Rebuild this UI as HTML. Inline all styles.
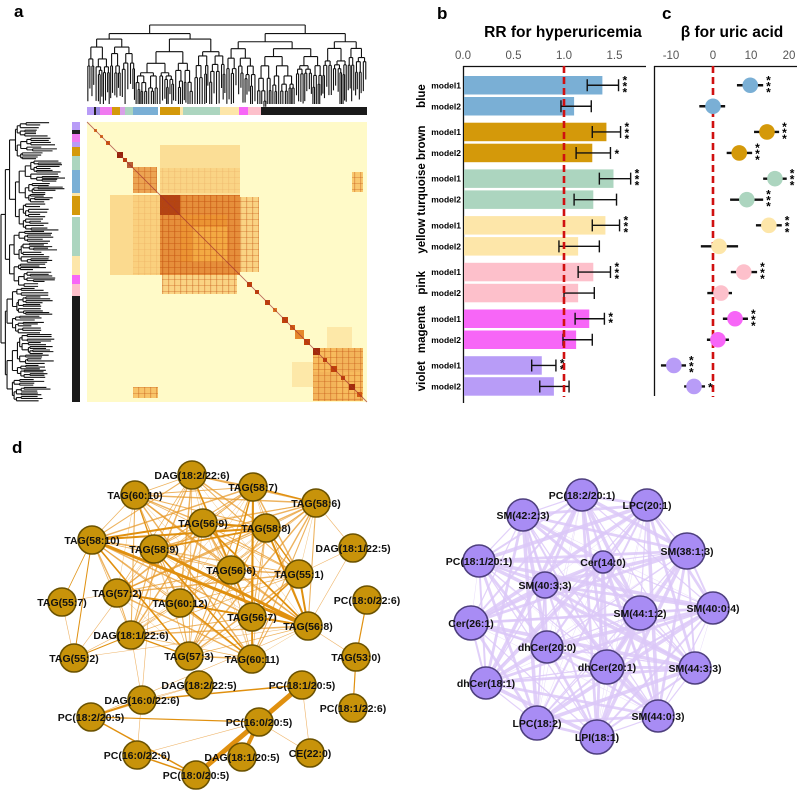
<!DOCTYPE html>
<html><head><meta charset="utf-8">
<style>
html,body{margin:0;padding:0;background:#fff;}
svg{display:block;font-family:"Liberation Sans",sans-serif;}
.lbl{font-weight:bold;font-size:10.5px;fill:#111;}
</style></head>
<body>
<svg id="fig" width="797" height="791" viewBox="0 0 797 791" xmlns="http://www.w3.org/2000/svg">
  <defs>
    <pattern id="stripes" width="6" height="6" patternUnits="userSpaceOnUse">
      <rect x="0" y="0" width="1.2" height="6" fill="#c05010" opacity="0.35"/>
      <rect x="0" y="3" width="6" height="1" fill="#c05010" opacity="0.3"/>
    </pattern>
  </defs>
  <text x="14" y="17" font-size="17" font-weight="bold">a</text>
  <text x="437" y="19" font-size="17" font-weight="bold">b</text>
  <text x="662" y="19" font-size="17" font-weight="bold">c</text>
  <text x="12" y="453" font-size="17" font-weight="bold">d</text>
  <g id="pa"></g>
  <g id="pb"></g>
  <g id="pc"></g>
  <g id="pd"></g>
</svg>
<script>
const NS="http://www.w3.org/2000/svg";
function mk(parent,tag,attrs,text){const e=document.createElementNS(NS,tag);for(const k in attrs)e.setAttribute(k,attrs[k]);if(text!==undefined)e.textContent=text;parent.appendChild(e);return e;}

// ===== data panel b/c =====
const groups=["blue","brown","turquoise","yellow","pink","magenta","violet"];
const groupColors=["#7aafd5","#d4990a","#acd5bf","#fde6a9","#fdc0cb","#f766f7","#b89cf7"];
const models=["model1","model2"];
const rrValues=[1.38,1.10,1.42,1.28,1.49,1.29,1.41,1.14,1.29,1.14,1.25,1.12,0.78,0.90];
const rrLow=[1.23,0.97,1.28,1.12,1.35,1.10,1.28,0.95,1.14,1.00,1.11,0.99,0.68,0.76];
const rrHigh=[1.54,1.27,1.56,1.46,1.66,1.52,1.55,1.35,1.46,1.30,1.40,1.28,0.92,1.05];
const rrStars=[3,0,3,1,3,0,3,0,3,0,2,0,2,0];
const rrTicks=[0,0.5,1.0,1.5];
const rrTickLabels=["0.0","0.5","1.0","1.5"];
const betaValues=[9.8,0,14.2,6.9,16.3,8.9,14.7,1.6,8.1,2.1,5.8,1.3,-10.3,-5.0];
const betaLow=[6.3,-3.6,10.8,3.6,13.2,4.5,11.3,-3.2,4.7,-1.5,2.6,-1.6,-13.7,-7.6];
const betaHigh=[13.2,3.2,17.4,10.3,19.4,13.2,18.1,6.6,11.6,5.0,9.2,4.2,-7.1,-2.1];
const betaStars=[3,0,3,3,3,3,3,0,3,0,3,0,3,1];
const betaTicks=[-10,0,10,20];
const betaTickLabels=["-10","0","10","20"];

const xRR=v=>463+v*101;
const xB=v=>713+v*3.8;
const rowTop=i=>76+Math.floor(i/2)*46.7+(i%2)*21;

function stars(g,x,yc,n){
  for(let k=0;k<n;k++){
    const t=mk(g,"text",{x:x,y:yc+5+(k-(n-1)/2)*6,"font-size":"12","font-weight":"bold"},"*");
    
    
  }
}

// panel b
(function(){
  const g=document.getElementById("pb");
  let t=mk(g,"text",{x:563,y:37,"font-size":"15.5","font-weight":"bold","text-anchor":"middle"},"RR for hyperuricemia");
  
  const ax=mk(g,"line",{x1:463,y1:66.5,x2:646,y2:66.5,stroke:"#111","stroke-width":1.3});
  
  const ay=mk(g,"line",{x1:463.5,y1:66,x2:463.5,y2:403,stroke:"#111","stroke-width":1.3});
  
  rrTicks.forEach((v,i)=>{const e=mk(g,"text",{x:xRR(v),y:59,"font-size":"11.5",fill:"#555","text-anchor":"middle"},rrTickLabels[i]);
    });
  rrValues.forEach((v,i)=>{
    const y=rowTop(i),gi=Math.floor(i/2);
    const r=mk(g,"rect",{x:464,y:y,width:xRR(v)-464,height:18.5,fill:groupColors[gi]});
    
    const yc=y+9.25;
    const l=mk(g,"path",{d:`M${xRR(rrLow[i])},${yc}H${xRR(rrHigh[i])}M${xRR(rrLow[i])},${yc-6}v12M${xRR(rrHigh[i])},${yc-6}v12`,stroke:"#111","stroke-width":1.4,fill:"none"});
    
    const m=mk(g,"text",{x:461,y:yc+3,"font-size":"8.5","font-weight":"bold","text-anchor":"end"},models[i%2]);
    
    stars(g,xRR(rrHigh[i])+4,yc,rrStars[i]);
  });
  groups.forEach((n,gi)=>{
    const yc=rowTop(gi*2)+20;
    const e=mk(g,"text",{x:0,y:0,"font-size":"11.5","font-weight":"bold","text-anchor":"middle",transform:`translate(425,${yc}) rotate(-90)`},n);
    
  });
  const d=mk(g,"line",{x1:xRR(1),y1:66,x2:xRR(1),y2:397,stroke:"#d01010","stroke-width":2.6,"stroke-dasharray":"7,4"});
  
})();

// panel c
(function(){
  const g=document.getElementById("pc");
  let t=mk(g,"text",{x:732,y:37,"font-size":"15.5","font-weight":"bold","text-anchor":"middle"},"β for uric acid");
  
  const ax=mk(g,"line",{x1:654,y1:66.5,x2:797,y2:66.5,stroke:"#111","stroke-width":1.3});
  
  const ay=mk(g,"line",{x1:654.5,y1:66,x2:654.5,y2:396,stroke:"#111","stroke-width":1.3});
  
  betaTicks.forEach((v,i)=>{const e=mk(g,"text",{x:xB(v)-(v<0?4:0),y:59,"font-size":"11.5",fill:"#555","text-anchor":"middle"},betaTickLabels[i]);
    });
  const d=mk(g,"line",{x1:xB(0),y1:66,x2:xB(0),y2:397,stroke:"#d01010","stroke-width":2.6,"stroke-dasharray":"7,4"});
  
  betaValues.forEach((v,i)=>{
    const yc=rowTop(i)+9.25,gi=Math.floor(i/2);
    const l=mk(g,"line",{x1:xB(betaLow[i]),y1:yc,x2:xB(betaHigh[i]),y2:yc,stroke:"#111","stroke-width":2.4});
    
    const c=mk(g,"circle",{cx:xB(v),cy:yc,r:7.8,fill:groupColors[gi]});
    
    stars(g,xB(betaHigh[i])+3,yc,betaStars[i]);
  });
})();

// ===== panel a =====
const barSegsTop=[[0,7,"#b89cf7"],[7,9,"#222"],[9,13,"#9a8ae0"],[13,25,"#f07af0"],[25,33,"#d4990a"],[33,38,"#d9a0e8"],[38,46,"#acd5bf"],[46,71,"#7aafd5"],[71,73,"#fff"],[73,93,"#d4990a"],[93,96,"#fde6a9"],[96,133,"#acd5bf"],[133,152,"#fde6a9"],[152,161,"#f766f7"],[161,174,"#fdc0cb"],[174,280,"#1a1a1a"]];
const barSegsLeft=[[0,8,"#b89cf7"],[8,12,"#222"],[12,20,"#f07af0"],[20,25,"#b89cf7"],[25,34,"#d4990a"],[34,48,"#acd5bf"],[48,71,"#7aafd5"],[71,74,"#fde6a9"],[74,93,"#d4990a"],[93,95,"#fff"],[95,134,"#acd5bf"],[134,153,"#fde6a9"],[153,162,"#f766f7"],[162,174,"#fdc0cb"],[174,280,"#1a1a1a"]];
// heatmap blocks: [x0,x1,y0,y1,intensity] in matrix index units (0-280)
const hmBlocks=[[46,153,73,153,0.22],[73,153,46,71,0.22],[23,73,73,153,0.18],[73,153,23,73,0.16],[153,172,75,150,0.22],[75,150,153,172,0.22],
 [73,153,73,153,0.5],[93,140,93,140,0.4],[73,93,73,93,0.85],[105,140,105,140,0.3],[46,70,45,71,0.45],[40,46,40,46,0.85],
 [226,276,226,279,0.38],[226,250,226,250,0.25],[250,276,250,276,0.25],[46,71,265,276,0.3],[265,276,50,70,0.28],[205,226,240,265,0.1],[240,265,205,226,0.1]];
const hmDiag=[[7,10,0.5],[13,16,0.5],[19,23,0.6],[30,36,0.9],[36,40,0.7],[160,165,0.7],[168,172,0.7],[178,183,0.7],[186,190,0.5],[195,201,0.7],[203,208,0.6],[208,217,0.45],[217,223,0.7],[226,233,0.85],[236,240,0.7],[244,250,0.7],[254,258,0.7],[262,268,0.85],[270,275,0.6]];
function heatColor(v){
  const s=[[255,250,200],[245,170,60],[200,70,10],[130,20,10]];
  const p=Math.min(0.999,Math.max(0,v))*(s.length-1),k=Math.floor(p),f=p-k;
  const c=s[k].map((a,j)=>Math.round(a+(s[k+1][j]-a)*f));return `rgb(${c})`;
}
(function(){
  const g=document.getElementById("pa");
  const X0=87,Y0=122,S=1;
  const hx=i=>X0+i*S, hy=i=>Y0+i*S;
  const bg=mk(g,"rect",{x:X0,y:Y0,width:280,height:280,fill:"#fffac8"});
  
  hmBlocks.forEach(b=>{const r=mk(g,"rect",{x:hx(b[0]),y:hy(b[2]),width:(b[1]-b[0])*S,height:(b[3]-b[2])*S,fill:heatColor(b[4]),opacity:0.75});
    
    if(b[4]>0.2){const p=mk(g,"rect",{x:hx(b[0]),y:hy(b[2]),width:(b[1]-b[0])*S,height:(b[3]-b[2])*S,fill:"url(#stripes)"});
      }
  });
  hmDiag.forEach(b=>{const r=mk(g,"rect",{x:hx(b[0]),y:hy(b[0]),width:(b[1]-b[0])*S,height:(b[1]-b[0])*S,fill:heatColor(b[2])});
    });
  const dl=mk(g,"line",{x1:X0,y1:Y0,x2:X0+280,y2:Y0+280,stroke:"#a03030","stroke-width":0.9,opacity:0.7});
  
  barSegsTop.forEach(s=>{const r=mk(g,"rect",{x:hx(s[0]),y:107,width:(s[1]-s[0])*S,height:8,fill:s[2]});
    });
  barSegsLeft.forEach(s=>{const r=mk(g,"rect",{x:72,y:hy(s[0]),width:8,height:(s[1]-s[0])*S,fill:s[2]});
    });
  // dendrograms (decorative, deterministic)
  let dTop="",dLeft="";let seed=7;
  const h=()=>{seed=(seed*9301+49297)%233280;return seed/233280;};
  function tree(a,b,y,depth,top){
    const mid=(a+b)/2;
    if(b-a<3||depth>9){const drop=y+(top?10+h()*22:8+h()*14);
      if(top)dTop+=`M${mid},${y}V${Math.min(drop,104)}`;else dLeft+=`M${y},${mid}H${Math.min(drop,65)}`;return mid;}
    const sp=a+(b-a)*(0.3+h()*0.4);
    const ny=y+(top?3+h()*10:1.5+h()*5);
    const m1=tree(a,sp,ny,depth+1,top),m2=tree(sp,b,ny,depth+1,top);
    if(top)dTop+=`M${m1},${y}H${m2}M${m1},${y}V${ny}M${m2},${y}V${ny}`;
    else dLeft+=`M${y},${m1}V${m2}M${y},${m1}H${ny}M${y},${m2}H${ny}`;
    return (m1+m2)/2;
  }
  tree(87,367,25,0,true);seed=13;tree(122,402,1,0,false);
  const p1=mk(g,"path",{d:dTop,stroke:"#111","stroke-width":1.1,fill:"none"});
  
  const p2=mk(g,"path",{d:dLeft,stroke:"#111","stroke-width":1.1,fill:"none"});
  
})();

// ===== panel d networks =====
const brownNames=["DAG(18:2/22:6)","TAG(58:7)","TAG(58:6)","TAG(60:10)","TAG(56:9)","TAG(58:8)","TAG(58:10)","TAG(58:9)","DAG(18:1/22:5)","TAG(56:6)","TAG(55:1)","TAG(57:2)","TAG(55:7)","TAG(60:12)","PC(18:0/22:6)","TAG(56:7)","TAG(56:8)","DAG(18:1/22:6)","TAG(55:2)","TAG(57:3)","TAG(60:11)","TAG(53:0)","DAG(18:2/22:5)","PC(18:1/20:5)","DAG(16:0/22:6)","PC(18:1/22:6)","PC(18:2/20:5)","PC(16:0/20:5)","PC(16:0/22:6)","DAG(18:1/20:5)","CE(22:0)","PC(18:0/20:5)"];
const brownX=[192,253,316,135,203,266,92,154,353,231,299,117,62,180,367,252,308,131,74,189,252,356,199,302,142,353,91,259,137,242,310,196];
const brownY=[475,487,503,495,523,528,540,549,548,570,574,593,602,603,600,617,626,635,658,656,659,657,685,685,700,708,717,722,755,757,753,775];
const brownHeavy=[[6,16,3],[7,16,3],[6,5,2],[4,5,2.2],[1,15,2],[1,20,1.8],[5,16,2],[10,16,2],[11,16,1.8],[7,20,1.5],[6,19,1.5],[13,20,1.5],[3,7,1.2],[0,15,1.5],[4,16,1.8],[6,4,2],[7,5,1.8],[1,9,1.5],[10,15,1.5],[23,31,5],[23,27,4],[27,29,4],[26,24,2],[26,31,1.5],[28,31,1.5],[24,23,1.5],[14,21,1.2],[21,25,1.2],[26,27,1.2],[18,6,1],[18,17,1],[12,6,0.8],[11,13,1.5],[17,19,1.2],[2,1,1.2],[5,10,1.2]];
const brownCluster=[0,1,2,3,4,5,6,7,9,10,11,13,15,16,17,19,20];
const brownThin=[[8,10],[8,2],[8,16],[12,18],[12,11],[18,16],[18,7],[22,24],[22,26],[17,24],[27,30],[23,30],[28,7],[28,27],[21,16],[18,13],[26,16]];
const violetNames=["PC(18:2/20:1)","LPC(20:1)","SM(42:2;3)","SM(38:1;3)","PC(18:1/20:1)","Cer(14:0)","SM(40:3;3)","SM(40:0;4)","SM(44:1;2)","Cer(26:1)","dhCer(20:0)","dhCer(20:1)","SM(44:3;3)","dhCer(18:1)","SM(44:0;3)","LPC(18:2)","LPI(18:1)"];
const violetX=[582,647,523,687,479,603,545,713,640,471,547,607,695,486,658,537,597];
const violetY=[495,505,515,551,561,562,585,608,613,623,647,667,668,683,716,723,737];
const violetR=[16,16,16,18,16,11,13,16,17,17,16,17,16,16,16,17,17];
(function(){
  const g=document.getElementById("pd");
  const eg=mk(g,"g",{});
  for(let a=0;a<brownCluster.length;a++)for(let b=a+1;b<brownCluster.length;b++){
    const i=brownCluster[a],j=brownCluster[b];
    const e=mk(eg,"line",{x1:brownX[i],y1:brownY[i],x2:brownX[j],y2:brownY[j],stroke:"#e89a2a","stroke-width":((i*5+j*3)%4)*0.35+0.4,opacity:0.75});
    
  }
  brownThin.forEach(p=>{const e=mk(eg,"line",{x1:brownX[p[0]],y1:brownY[p[0]],x2:brownX[p[1]],y2:brownY[p[1]],stroke:"#eaa040","stroke-width":0.6,opacity:0.8});
    });
  brownHeavy.forEach(p=>{const e=mk(eg,"line",{x1:brownX[p[0]],y1:brownY[p[0]],x2:brownX[p[1]],y2:brownY[p[1]],stroke:"#e0900f","stroke-width":p[2]});
    });
  brownNames.forEach((n,i)=>{
    const c=mk(g,"circle",{cx:brownX[i],cy:brownY[i],r:14,fill:"#c8930a",stroke:"#6b5200","stroke-width":1.6});
    
  });
  brownNames.forEach((n,i)=>{
    const t=mk(g,"text",{x:brownX[i],y:brownY[i]+4,class:"lbl","text-anchor":"middle"},n);
    
  });
  const vg=mk(g,"g",{});
  for(let i=0;i<violetNames.length;i++)for(let j=i+1;j<violetNames.length;j++){
    const w=((i*7+j*13)%5)*0.8+0.4;
    const e=mk(vg,"line",{x1:violetX[i],y1:violetY[i],x2:violetX[j],y2:violetY[j],stroke:"#dcc8f8","stroke-width":w,opacity:0.85});
    
  }
  violetNames.forEach((n,i)=>{
    const c=mk(g,"circle",{cx:violetX[i],cy:violetY[i],r:violetR[i],fill:"#a88cf4",stroke:"#4e3f7e","stroke-width":1.6});
    
  });
  violetNames.forEach((n,i)=>{
    const t=mk(g,"text",{x:violetX[i],y:violetY[i]+4,class:"lbl","text-anchor":"middle"},n);
    
  });
})();
</script>
</body></html>
